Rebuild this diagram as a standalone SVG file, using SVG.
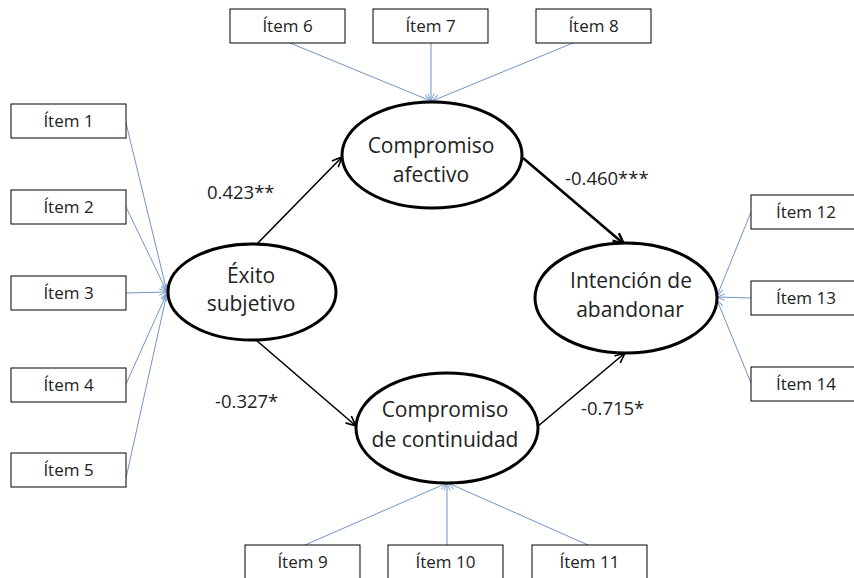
<svg xmlns="http://www.w3.org/2000/svg" width="854" height="578" viewBox="0 0 854 578">
<defs>
<marker id="ab" viewBox="0 0 12 12" refX="11" refY="6" markerWidth="12" markerHeight="12" orient="auto" markerUnits="userSpaceOnUse"><path d="M1,1.5 L11,6 L1,10.5" fill="none" stroke="#000" stroke-width="1.6"/></marker>
<marker id="abt" viewBox="0 0 12 12" refX="11" refY="6" markerWidth="13" markerHeight="13" orient="auto" markerUnits="userSpaceOnUse"><path d="M1,1.5 L11,6 L1,10.5" fill="none" stroke="#000" stroke-width="2.2"/></marker>
<marker id="bl" viewBox="0 0 10 10" refX="9.5" refY="5" markerWidth="9" markerHeight="9" orient="auto" markerUnits="userSpaceOnUse"><path d="M1,1.5 L9.5,5 L1,8.5" fill="none" stroke="#6F95C8" stroke-width="1"/></marker>
</defs>
<style>
.box{fill:#fff;stroke:#000;stroke-width:1}
.it{font-family:"Open Sans","Liberation Sans",sans-serif;font-size:17px;fill:#222;text-anchor:middle}
.lat{fill:#fff;stroke:#000;stroke-width:3}
.lt{font-family:"Open Sans","Liberation Sans",sans-serif;font-size:21px;fill:#222;text-anchor:middle}
.co{font-family:"Open Sans","Liberation Sans",sans-serif;font-size:18.5px;fill:#222}
.bl{stroke:#6F95C8;stroke-width:1;fill:none;marker-end:url(#bl)}
.bk{stroke:#000;stroke-width:1.6;fill:none;marker-end:url(#ab)}
.bkt{stroke:#000;stroke-width:2.6;fill:none;marker-end:url(#abt)}
</style>
<g id="connectors">
<line class="bl" x1="126" y1="123" x2="167" y2="292"/>
<line class="bl" x1="126" y1="207" x2="167" y2="292"/>
<line class="bl" x1="126" y1="293" x2="167" y2="292"/>
<line class="bl" x1="126" y1="384" x2="167" y2="293"/>
<line class="bl" x1="126" y1="478" x2="167" y2="293"/>
<line class="bl" x1="290" y1="43" x2="431" y2="101"/>
<line class="bl" x1="431" y1="43" x2="431" y2="101"/>
<line class="bl" x1="573" y1="43" x2="432" y2="101"/>
<line class="bl" x1="305" y1="545" x2="447" y2="483"/>
<line class="bl" x1="447" y1="545" x2="447" y2="483"/>
<line class="bl" x1="588" y1="545" x2="448" y2="483"/>
<line class="bl" x1="751" y1="212" x2="717" y2="296"/>
<line class="bl" x1="751" y1="298" x2="717" y2="297"/>
<line class="bl" x1="751" y1="383" x2="717" y2="300"/>
<line class="bk" x1="255" y1="246" x2="342" y2="157"/>
<line class="bkt" x1="523" y1="158" x2="624" y2="244"/>
<line class="bk" x1="256" y1="340" x2="356" y2="426"/>
<line class="bk" x1="537" y1="427" x2="625" y2="353"/>
</g>
<g id="item1"><rect class="box" x="11" y="104" width="115" height="34"/><text class="it" x="68.5" y="127">Ítem 1</text></g>
<g id="item2"><rect class="box" x="11" y="190" width="115" height="34"/><text class="it" x="68.5" y="213">Ítem 2</text></g>
<g id="item3"><rect class="box" x="11" y="276" width="115" height="34"/><text class="it" x="68.5" y="299">Ítem 3</text></g>
<g id="item4"><rect class="box" x="11" y="368" width="115" height="34"/><text class="it" x="68.5" y="391">Ítem 4</text></g>
<g id="item5"><rect class="box" x="11" y="453" width="115" height="34"/><text class="it" x="68.5" y="476">Ítem 5</text></g>
<g id="item6"><rect class="box" x="230" y="9" width="115" height="34"/><text class="it" x="287.5" y="32">Ítem 6</text></g>
<g id="item7"><rect class="box" x="373" y="9" width="115" height="34"/><text class="it" x="430.5" y="32">Ítem 7</text></g>
<g id="item8"><rect class="box" x="536" y="9" width="115" height="34"/><text class="it" x="593.5" y="32">Ítem 8</text></g>
<g id="item9"><rect class="box" x="245" y="545" width="115" height="34"/><text class="it" x="302.5" y="568">Ítem 9</text></g>
<g id="item10"><rect class="box" x="388" y="545" width="115" height="34"/><text class="it" x="445.5" y="568">Ítem 10</text></g>
<g id="item11"><rect class="box" x="532" y="545" width="115" height="34"/><text class="it" x="589.5" y="568">Ítem 11</text></g>
<g id="item12"><rect class="box" x="751" y="195" width="115" height="34"/><text class="it" x="806" y="218">Ítem 12</text></g>
<g id="item13"><rect class="box" x="751" y="281" width="115" height="34"/><text class="it" x="806" y="304">Ítem 13</text></g>
<g id="item14"><rect class="box" x="751" y="367" width="115" height="34"/><text class="it" x="806" y="390">Ítem 14</text></g>
<g id="exito"><ellipse class="lat" cx="252" cy="292" rx="84" ry="48"/><text class="lt" x="251" y="283">Éxito</text><text class="lt" x="251" y="311">subjetivo</text></g>
<g id="afectivo"><ellipse class="lat" cx="432" cy="155" rx="90" ry="53"/><text class="lt" x="431" y="153">Compromiso</text><text class="lt" x="431" y="182">afectivo</text></g>
<g id="intencion"><ellipse class="lat" cx="626" cy="298" rx="91" ry="55"/><text class="lt" x="631" y="288">Intención de</text><text class="lt" x="630" y="317">abandonar</text></g>
<g id="continuidad"><ellipse class="lat" cx="447" cy="428" rx="91" ry="55"/><text class="lt" x="445" y="417">Compromiso</text><text class="lt" x="445" y="447">de continuidad</text></g>
<g id="coefs">
<text class="co" x="207" y="199">0.423**</text>
<text class="co" x="565" y="185">-0.460***</text>
<text class="co" x="215" y="408">-0.327*</text>
<text class="co" x="581" y="415">-0.715*</text>
</g>
</svg>
